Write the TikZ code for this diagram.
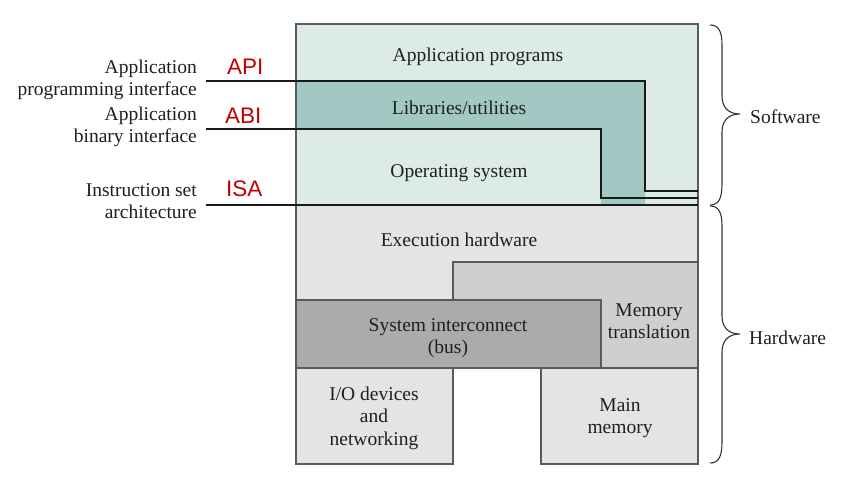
\documentclass[tikz,border=0pt]{standalone}
\usepackage{fontspec}
\setmainfont{Liberation Serif}
\newfontfamily\redsans{Liberation Sans}
\definecolor{swlight}{RGB}{221,235,231}
\definecolor{swteal}{RGB}{162,200,196}
\definecolor{hwlight}{RGB}{228,228,228}
\definecolor{hwmid}{RGB}{207,207,207}
\definecolor{hwdark}{RGB}{171,171,171}
\definecolor{boxgray}{RGB}{90,90,90}
\definecolor{apired}{RGB}{192,0,0}
\begin{document}
\begin{tikzpicture}[x=1pt,y=-1pt,
  lbl/.style={font=\fontsize{19.5}{22.5}\selectfont, align=center, inner sep=0pt, text=black!88},
  side/.style={font=\fontsize{19.5}{22.5}\selectfont, align=right, anchor=east, inner sep=0pt, text=black!88},
  redlbl/.style={font=\redsans\fontsize{22.5}{26}\selectfont, text=apired, anchor=west, inner sep=0pt},
  iface/.style={line width=1.8pt, draw=black!90},
  boxline/.style={draw=boxgray, line width=1.4pt},
  bracepath/.style={draw=black!80, line width=1.1pt}]
\useasboundingbox (0,0) rectangle (867,479);
% software fills
\fill[swlight] (296,24) rectangle (698,205);
\fill[swteal] (296,81) -- (645,81) -- (645,205) -- (601,205) -- (601,129) -- (296,129) -- cycle;
\draw[boxline] (296,205) -- (296,24) -- (698,24) -- (698,205);
% hardware boxes
\filldraw[fill=hwlight, boxline] (296,205) rectangle (698,300);
\filldraw[fill=hwmid, boxline] (453,262) rectangle (698,368);
\filldraw[fill=hwdark, boxline] (296,300) rectangle (601,368);
\filldraw[fill=hwlight, boxline] (296,368) rectangle (453,464);
\filldraw[fill=hwlight, boxline] (541,368) rectangle (698,464);
% interface lines
\coordinate (apiS) at (206,81);
\coordinate (apiE) at (698,191);
\coordinate (abiS) at (206,129);
\coordinate (abiE) at (698,198);
\coordinate (isaS) at (206,205);
\coordinate (isaE) at (698,205);
\draw[iface] (apiS) -| (645,191) -- (apiE);
\draw[iface] (abiS) -| (601,198) -- (abiE);
\draw[iface] (isaS) -- (isaE);
% box texts
\node[lbl] (appprog) at (478,57) {Application programs};
\node[lbl] (libs) at (459,108) {Libraries/utilities};
\node[lbl] (os) at (459,173) {Operating system};
\node[lbl] (exec) at (459,240) {Execution hardware};
\node[lbl] (bus) at (448,338) {System interconnect\\(bus)};
\node[lbl] (memtr) at (649,321) {Memory\\translation};
\node[lbl] (io) at (374,418) {I/O devices\\and\\networking};
\node[lbl] (mainmem) at (620,418) {Main\\memory};
% left labels
\node[side] (apiL) at (197,80) {Application\\programming interface};
\node[side] (abiL) at (197,127) {Application\\binary interface};
\node[side] (isaL) at (197,201) {Instruction set\\architecture};
\node[redlbl] (api) at (227,67) {API};
\node[redlbl] (abi) at (225,116) {ABI};
\node[redlbl] (isa) at (226,189) {ISA};
% braces
\draw[bracepath] (710,25) .. controls (719,25) and (722,32) .. (722,45) -- (722,96)
  .. controls (722,107) and (728,114) .. (740,114)
  .. controls (728,114) and (722,121) .. (722,132) -- (722,184)
  .. controls (722,198) and (719,205) .. (710,205);
\draw[bracepath] (710,206) .. controls (719,206) and (722,213) .. (722,226) -- (722,316)
  .. controls (722,327) and (728,334) .. (740,334)
  .. controls (728,334) and (722,341) .. (722,352) -- (722,442)
  .. controls (722,456) and (719,463) .. (710,463);
\node[lbl, anchor=west] (software) at (750,117) {Software};
\node[lbl, anchor=west] (hardware) at (749,338) {Hardware};
\end{tikzpicture}
\end{document}
